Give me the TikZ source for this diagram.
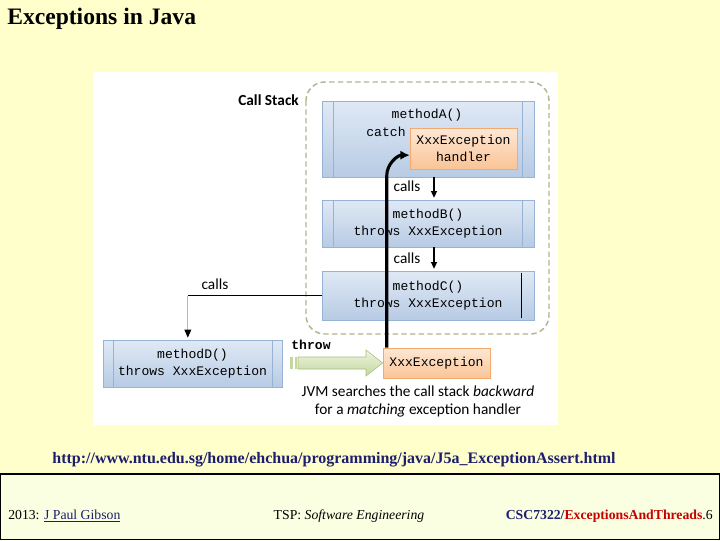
\documentclass[tikz,border=0pt]{standalone}
\usepackage{fontspec}
\setmainfont{Liberation Serif}
\newfontfamily\codefont{Liberation Mono}
\newfontfamily\labelfont{Carlito}
\usetikzlibrary{arrows.meta}

\definecolor{slidebg}{RGB}{255,255,204}
\definecolor{footbg}{RGB}{250,255,226}
\definecolor{urlblue}{RGB}{30,30,110}
\definecolor{linkblue}{RGB}{40,40,200}
\definecolor{footred}{RGB}{200,0,0}
\definecolor{boxtop}{RGB}{224,233,245}
\definecolor{boxbot}{RGB}{183,203,228}
\definecolor{boxline}{RGB}{150,178,212}
\definecolor{exctop}{RGB}{253,232,214}
\definecolor{excbot}{RGB}{250,196,150}
\definecolor{excline}{RGB}{244,170,110}
\definecolor{stackline}{RGB}{180,180,145}
\definecolor{throwtop}{RGB}{238,244,226}
\definecolor{throwbot}{RGB}{196,215,158}
\definecolor{throwline}{RGB}{168,192,120}

\tikzset{
  methodbox/.style={draw=boxline, top color=boxtop, bottom color=boxbot, inner sep=0pt,
    align=center, font=\codefont\fontsize{9.8}{12.75}\selectfont},
  excbox/.style={draw=excline, top color=exctop, bottom color=excbot, inner sep=0pt,
    align=center, font=\codefont\fontsize{9.8}{12.75}\selectfont},
  codetext/.style={font=\codefont\fontsize{9.8}{12.75}\selectfont, inner sep=0pt},
  callstext/.style={font=\labelfont\fontsize{11.5}{13}\selectfont, inner sep=0pt},
  callarrow/.style={-{Triangle[length=5pt,width=4.5pt]}, thick},
  innerline/.style={boxline, line width=0.6pt},
}

\begin{document}
\begin{tikzpicture}[x=0.75pt,y=-0.75pt]
  \fill[slidebg] (0,0) rectangle (720,540);
  \useasboundingbox (0,0) rectangle (720,540);

  % title
  \node[anchor=west, inner sep=0pt, font=\bfseries\fontsize{17.7}{20}\selectfont] (title) at (7,19) {Exceptions in Java};

  % picture background
  \fill[white] (93,72) rectangle (558,425);

  % call stack frame
  \draw[stackline, dashed, line width=1.1pt, dash pattern=on 4pt off 2.5pt, rounded corners=14pt] (306,82) rectangle (549,334);
  \node[anchor=east, inner sep=0pt, font=\labelfont\bfseries\fontsize{11.5}{13}\selectfont] (stack) at (299,100) {Call Stack};

  % methods
  \node[methodbox, minimum width=159pt, minimum height=57pt] (mA) at (428,139) {};
  \node[methodbox, minimum width=159pt, minimum height=35.25pt] (mB) at (428,223.5) {methodB()\\throws XxxException};
  \node[methodbox, minimum width=159pt, minimum height=36.75pt] (mC) at (428,295.5) {methodC()\\throws XxxException};
  \node[methodbox, minimum width=134.25pt, minimum height=35.25pt] (mD) at (192.5,363.5) {methodD()\\throws XxxException};

  \draw[innerline] ([xshift=9pt]mA.north west) -- ([xshift=9pt]mA.south west);
  \draw[innerline] ([xshift=-9pt]mA.north east) -- ([xshift=-9pt]mA.south east);
  \draw[innerline] ([xshift=9pt]mB.north west) -- ([xshift=9pt]mB.south west);
  \draw[innerline] ([xshift=-9pt]mB.north east) -- ([xshift=-9pt]mB.south east);
  \draw[line width=0.6pt] ([xshift=-9.75pt,yshift=-1.5pt]mC.north east) -- ([xshift=-9.75pt,yshift=1.5pt]mC.south east);
  \draw[innerline] ([xshift=8.25pt]mD.north west) -- ([xshift=8.25pt]mD.south west);
  \draw[innerline] ([xshift=-7.5pt]mD.north east) -- ([xshift=-7.5pt]mD.south east);

  \node[codetext] (nameA) at (427,115) {methodA()};
  \node[codetext] (catch) at (386,132) {catch};
  \node[excbox, minimum width=80.25pt, minimum height=30.75pt] (handler) at (463.5,148.5) {XxxException\\handler};

  % calls
  \draw[callarrow] ([xshift=4.5pt]mA.south) -- ([xshift=4.5pt,yshift=1.5pt]mB.north);
  \node[callstext] (callsAB) at (407,186) {calls};
  \draw[callarrow] ([xshift=4.5pt]mB.south) -- ([xshift=4.5pt,yshift=1.5pt]mC.north);
  \node[callstext] (callsBC) at (407,258) {calls};

  \coordinate (dtop) at ([xshift=-3.5pt,yshift=1.5pt]mD.north);
  \coordinate (turn) at (mC.west -| dtop);
  \draw[thick] (mC.west) -- (turn);
  \draw[gray!55, thick, -{Triangle[black,length=6pt,width=5pt]}] (turn) -- (dtop);
  \node[callstext] (callsCD) at (215,284) {calls};

  % thrown exception
  \node[excbox, minimum width=80.25pt, minimum height=22.5pt] (xexc) at (436.5,363) {XxxException};
  \node[codetext, font=\codefont\bfseries\fontsize{9.8}{12}\selectfont] (throw) at (311,345) {throw};
  \draw[throwline, top color=throwtop, bottom color=throwbot]
    (298,357) -- (366,357) -- (366,350) -- (xexc.west) -- (366,376) -- (366,369) -- (298,369) -- cycle;
  \fill[throwbot] (290,357) rectangle (293,369);
  \fill[throwbot] (294.5,357) rectangle (296.5,369);

  % search back
  \draw[line width=2.3pt, -{Latex[length=7pt,width=7pt]}]
    ([xshift=3pt]xexc.north west) -- ++(0,-172) to[out=90,in=180] ([yshift=-5pt]handler.west);

  \node[callstext, align=center, font=\labelfont\fontsize{11.5}{13.5}\selectfont] (jvm) at (418,401)
    {JVM searches the call stack \textit{backward}\\for a \textit{matching} exception handler};

  % source
  \node[inner sep=0pt, text=urlblue, font=\bfseries\fontsize{12}{14}\selectfont] (url) at (334,460)
    {http://www.ntu.edu.sg/home/ehchua/programming/java/J5a\_ExceptionAssert.html};

  % footer
  \draw[fill=footbg, line width=0.9pt] (0.6,474) rectangle (719.4,539.4);
  \node[anchor=west, inner sep=0pt, font=\fontsize{10.3}{12}\selectfont] (author) at (8,516)
    {2013: {\color{urlblue}\underline{J Paul Gibson}}};
  \node[inner sep=0pt, font=\fontsize{10.3}{12}\selectfont] (course) at (349,516)
    {TSP: \textit{Software Engineering}};
  \node[anchor=east, inner sep=0pt, font=\fontsize{10.3}{12}\selectfont] (slide) at (713,516)
    {{\color{urlblue}\bfseries CSC7322/}{\color{footred}\bfseries ExceptionsAndThreads}.6};
\end{tikzpicture}
\end{document}
